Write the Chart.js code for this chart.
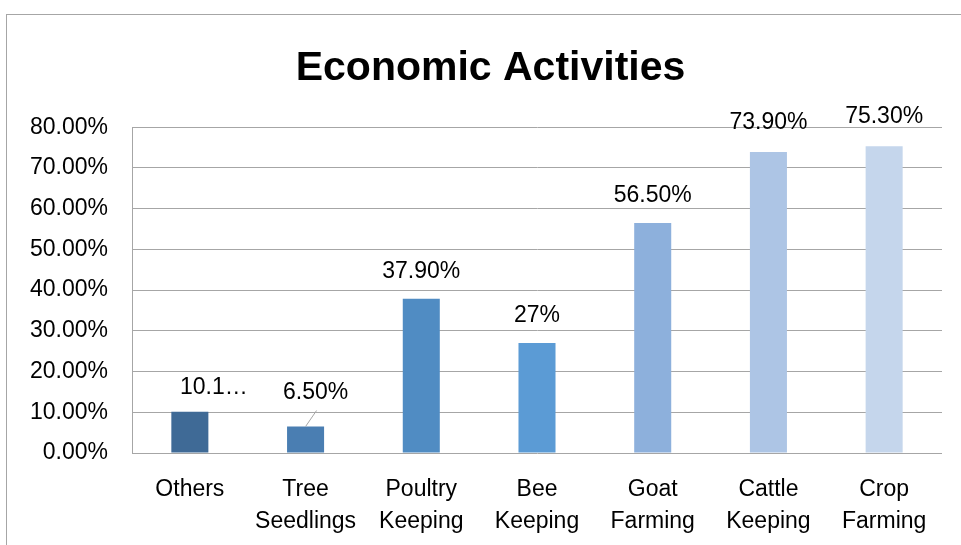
<!DOCTYPE html>
<html>
<head>
<meta charset="utf-8">
<title>Economic Activities</title>
<script src="https://cdn.jsdelivr.net/npm/chart.js@4.4.1/dist/chart.umd.min.js"></script>
<style>
    html, body { margin: 0; padding: 0; background: #fff; overflow: hidden; }
    #wrap { position: relative; width: 961px; height: 545px; }
    #frame { position: absolute; left: 6px; top: 14px; width: 1000px; height: 600px; border: 1px solid #a6a6a6; }
    #chart { position: absolute; left: 0; top: 0; }
</style>
</head>
<body>
<div id="wrap">
    <div id="frame"></div>
    <canvas id="chart" width="961" height="545"></canvas>
</div>
<script>
const categories = [
    ['Others'],
    ['Tree', 'Seedlings'],
    ['Poultry', 'Keeping'],
    ['Bee', 'Keeping'],
    ['Goat', 'Farming'],
    ['Cattle', 'Keeping'],
    ['Crop', 'Farming']
]
const shares = [10.1, 6.5, 37.9, 27, 56.5, 73.9, 75.3]
// the first label is clipped the way it shows on the chart
const shareLabels = ['10.1…', '6.50%', '37.90%', '27%', '56.50%', '73.90%', '75.30%']
const yTickLabels = ['0.00%', '10.00%', '20.00%', '30.00%', '40.00%', '50.00%', '60.00%', '70.00%', '80.00%']

const barColors = ['#3f6a96', '#4a7eb2', '#508cc3', '#5b9bd5', '#8db0dc', '#adc5e5', '#c5d6ec']
// label offsets from the top of each bar, [dx, dy]
const labelNudge = [[24, -24], [10, -34], [0, -27], [0, -27], [0, -27], [0, -29], [0, -30]]
const leaderLines = [false, true, false, false, false, false, false]

const FONT = '"Liberation Sans", Arial, sans-serif'
const TEXT_SIZE = 23
const gridGray = '#a6a6a6'

Chart.defaults.font.family = FONT
Chart.defaults.color = '#000'

const valueLabels = {
    id: 'valueLabels',
    // y labels reach into the left padding, so widen their clip box
    afterLayout(chart) {
        chart.scales.y.left = 0
    },
    afterDatasetsDraw(chart) {
        const ctx = chart.ctx
        const bars = chart.getDatasetMeta(0).data
        ctx.save()
        ctx.font = TEXT_SIZE + 'px ' + FONT
        ctx.fillStyle = '#000'
        ctx.textAlign = 'center'
        ctx.textBaseline = 'middle'
        bars.forEach((bar, i) => {
            const x = bar.x + labelNudge[i][0],
                y = bar.y + labelNudge[i][1]
            if (leaderLines[i]) {
                ctx.strokeStyle = gridGray
                ctx.lineWidth = 1
                ctx.beginPath()
                ctx.moveTo(x + 1, y + 18)
                ctx.lineTo(bar.x, bar.y)
                ctx.stroke()
            }
            ctx.fillText(shareLabels[i], x, y)
        })
        ctx.restore()
    }
}

new Chart(document.getElementById('chart'), {
    type: 'bar',
    data: {
        labels: categories,
        datasets: [{
            data: shares,
            backgroundColor: barColors,
            borderWidth: 0,
            categoryPercentage: 1,
            barPercentage: 0.32
        }]
    },
    options: {
        responsive: false,
        animation: false,
        devicePixelRatio: 1,
        layout: {
            // left padding keeps the title centred on the frame
            padding: { left: 39, right: 19, top: 0, bottom: 0 }
        },
        plugins: {
            legend: { display: false },
            tooltip: { enabled: false },
            title: {
                display: true,
                text: 'Economic Activities',
                color: '#000',
                font: { size: 41, weight: 'bold', family: FONT },
                padding: { top: 44, bottom: 34 }
            }
        },
        scales: {
            x: {
                grid: { display: false },
                border: { display: false },
                ticks: {
                    padding: 13,
                    maxRotation: 0,
                    autoSkip: false,
                    font: { size: TEXT_SIZE, lineHeight: 1.37 }
                },
                afterFit: scale => { scale.height = 92 }
            },
            y: {
                min: 0,
                max: 80,
                grid: { color: gridGray, lineWidth: 1, drawTicks: false },
                border: { display: true, color: gridGray, width: 1 },
                ticks: {
                    stepSize: 10,
                    padding: 24,
                    font: { size: TEXT_SIZE },
                    callback: (v, i) => yTickLabels[i]
                },
                afterFit: scale => { scale.width = 93 }
            }
        }
    },
    plugins: [valueLabels]
})
</script>
</body>
</html>
